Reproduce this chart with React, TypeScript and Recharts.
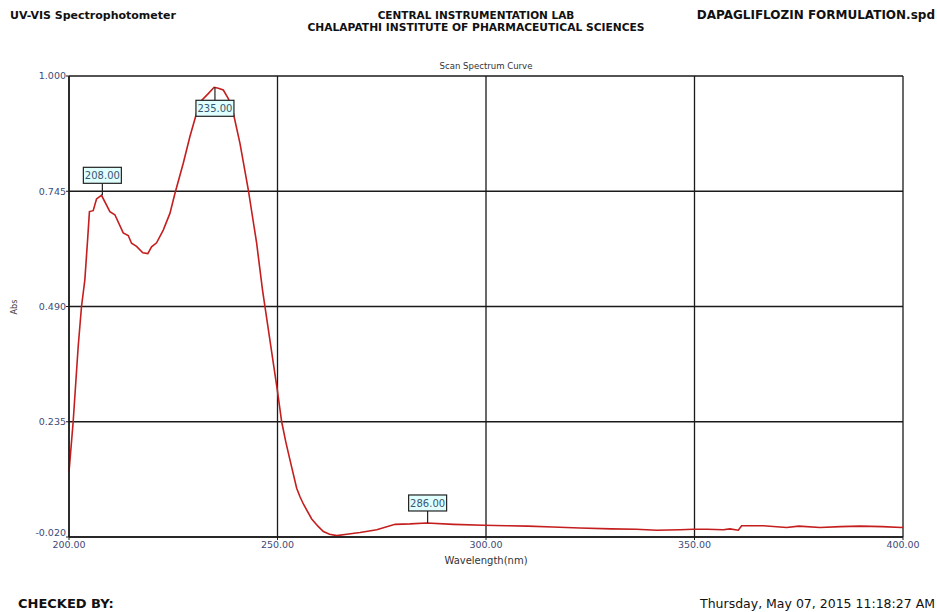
import { LineChart, Line, XAxis, YAxis, CartesianGrid, ReferenceDot } from "recharts";

const wavelengths = [
  200.0, 201.0, 202.2, 203.0, 203.8, 204.5, 204.9, 205.8, 206.6, 207.8, 209.8, 211.0, 213.0, 214.2, 215.0,
  216.2, 217.7, 218.9, 219.8, 221.0, 222.6, 224.2, 225.4, 227.4, 229.0, 230.6, 231.8, 233.4, 234.8, 235.8,
  237.0, 238.2, 239.4, 241.0, 243.0, 245.0, 246.4, 250.0, 251.0, 252.0, 253.0, 254.6, 255.4, 256.2, 258.2,
  259.7, 261.0, 262.5, 264.2, 266.6, 269.8, 273.8, 278.2, 281.8, 285.8, 292.2, 299.4, 305.0, 310.0, 316.0,
  322.5, 330.0, 336.0, 341.0, 346.5, 349.7, 353.0, 356.9, 358.5, 360.5, 361.3, 366.5, 372.1, 375.0, 380.1,
  385.0, 389.7, 395.0, 399.7, 400.0,
];

const absorbance = [
  0.124, 0.235, 0.401, 0.49, 0.549, 0.643, 0.7, 0.702, 0.728, 0.736, 0.7, 0.693, 0.653, 0.647, 0.63,
  0.623, 0.609, 0.607, 0.622, 0.631, 0.659, 0.696, 0.74, 0.807, 0.866, 0.918, 0.946, 0.961, 0.975, 0.973,
  0.969, 0.95, 0.918, 0.851, 0.748, 0.63, 0.527, 0.302, 0.235, 0.19, 0.15, 0.088, 0.069, 0.053, 0.02,
  0.004, -0.008, -0.014, -0.017, -0.014, -0.01, -0.004, 0.008, 0.009, 0.011, 0.008, 0.006, 0.005, 0.004, 0.002,
  0.0, -0.002, -0.003, -0.005, -0.004, -0.003, -0.003, -0.004, -0.002, -0.005, 0.005, 0.005, 0.001, 0.004, 0.001,
  0.003, 0.004, 0.003, 0.001, 0.002,
];

const xTicks = [200, 250, 300, 350, 400];
const yTicks = [-0.02, 0.235, 0.49, 0.745, 1.0];

const peaks = [
  { x: 208, y: 0.736, label: "208.00", below: false },
  { x: 235, y: 0.975, label: "235.00", below: true },
  { x: 286, y: 0.011, label: "286.00", below: false },
];

const data = wavelengths.map((w, i) => ({ w, abs: absorbance[i] }));

const font = "'DejaVu Sans', Verdana, sans-serif";
const condensed = "'DejaVu Sans Condensed', 'DejaVu Sans', sans-serif";
const tickColor = "#3D4A78";

const PeakTag = ({ cx, cy, text, below }: { cx: number; cy: number; text: string; below: boolean }) => {
  const w = 38;
  const h = 16;
  const gap = below ? 13 : 12;
  const boxY = below ? cy + gap : cy - gap - h;
  return (
    <g>
      <line x1={cx} y1={cy} x2={cx} y2={below ? cy + gap : cy - gap} stroke="#222" strokeWidth={1.2} />
      <rect x={cx - w / 2} y={boxY} width={w} height={h} fill="#E0FFFF" stroke="#222" strokeWidth={1.2} />
      <text x={cx} y={boxY + 12} textAnchor="middle" fontSize={10} fontFamily={font} fill="#3B5570">
        {text}
      </text>
    </g>
  );
};

// y tick labels; the bottom one sits a little above the axis like the instrument printout
const YTick = (props: any) => {
  const { x, y, payload } = props;
  const lift = payload.value === yTicks[0] ? -4 : 0;
  return (
    <text x={x} y={y + lift} dy="0.355em" textAnchor="end" fontSize={9.5} fontFamily={font} fill={tickColor}>
      {Number(payload.value).toFixed(3)}
    </text>
  );
};

const txt = (extra: React.CSSProperties): React.CSSProperties => ({
  position: "absolute",
  whiteSpace: "nowrap",
  fontFamily: font,
  color: "#111",
  ...extra,
});

export default function App() {
  return (
    <div style={{ position: "absolute", left: 0, top: 0, width: 937, height: 612, background: "#fff", overflow: "hidden" }}>
      <div style={txt({ left: 10, top: 9, fontSize: 11, fontWeight: "bold" })}>UV-VIS Spectrophotometer</div>
      <div style={txt({ left: 0, width: 952, top: 9, fontSize: 10.5, fontWeight: "bold", textAlign: "center" })}>
        CENTRAL INSTRUMENTATION LAB
      </div>
      <div style={txt({ left: 0, width: 952, top: 21, fontSize: 10.7, fontWeight: "bold", textAlign: "center" })}>
        CHALAPATHI INSTITUTE OF PHARMACEUTICAL SCIENCES
      </div>
      <div style={txt({ right: 2, top: 8, fontSize: 12, fontWeight: "bold" })}>DAPAGLIFLOZIN FORMULATION.spd</div>
      <div style={txt({ left: 18, top: 596, fontSize: 13, fontWeight: "bold" })}>CHECKED BY:</div>
      <div style={txt({ right: 2, top: 596, fontSize: 12.5 })}>Thursday, May 07, 2015 11:18:27 AM</div>

      <LineChart width={937} height={612} data={data} margin={{ top: 76, right: 34, bottom: 45, left: 9 }}>
        <text x={486} y={69} textAnchor="middle" fontSize={9.5} fontFamily={condensed} fill="#333">
          Scan Spectrum Curve
        </text>
        <text x={486} y={564} textAnchor="middle" fontSize={10} fontFamily={font} fill="#333">
          Wavelength(nm)
        </text>
        <text x={17} y={307} textAnchor="middle" fontSize={9} fontFamily={condensed} fill="#444" transform="rotate(-90 17 307)">
          Abs
        </text>
        <CartesianGrid stroke="#1a1a1a" strokeWidth={1.3} horizontalValues={yTicks} verticalValues={xTicks} />
        <XAxis
          dataKey="w"
          type="number"
          domain={[200, 400]}
          ticks={xTicks}
          tickFormatter={(v: number) => v.toFixed(2)}
          height={30}
          tickSize={3}
          tickMargin={1}
          stroke="#1a1a1a"
          axisLine={{ stroke: "#1a1a1a", strokeWidth: 1.5 }}
          tick={{ fill: tickColor, fontSize: 9.5, fontFamily: font }}
        />
        <YAxis
          type="number"
          domain={[-0.02, 1.0]}
          ticks={yTicks}
          width={60}
          tickSize={3}
          tickMargin={0}
          stroke="#1a1a1a"
          axisLine={{ stroke: "#1a1a1a", strokeWidth: 1.5 }}
          tick={<YTick />}
          allowDataOverflow
        />
        <Line
          type="linear"
          dataKey="abs"
          stroke="#C41E1E"
          strokeWidth={1.6}
          dot={false}
          isAnimationActive={false}
        />
        {peaks.map((p) => (
          <ReferenceDot
            key={p.label}
            x={p.x}
            y={p.y}
            r={0}
            shape={(props: any) => <PeakTag cx={props.cx} cy={props.cy} text={p.label} below={p.below} />}
          />
        ))}
      </LineChart>
    </div>
  );
}
